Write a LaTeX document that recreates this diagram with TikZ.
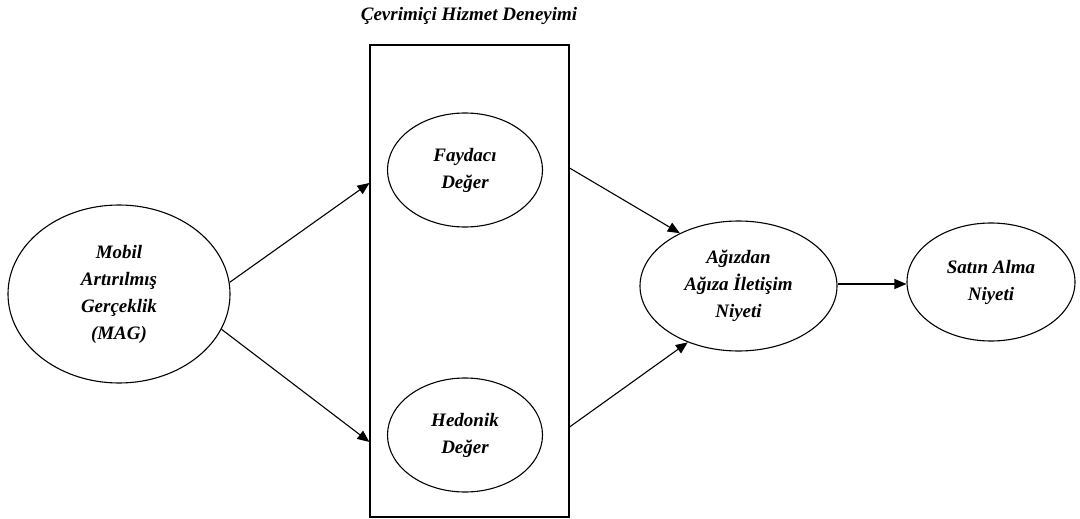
\documentclass[tikz,border=0pt]{standalone}
\usepackage{fontspec}
\setmainfont{Liberation Serif}
\usetikzlibrary{shapes.geometric,arrows.meta}
\begin{document}
\begin{tikzpicture}[x=1pt,y=-1pt,
 lbl/.style={font=\fontsize{19}{27}\selectfont\bfseries\itshape, align=center},
 oval/.style={ellipse, draw, line width=1.1pt, inner sep=0pt, lbl},
 arr/.style={-{Triangle[length=12pt,width=10pt]}, line width=1.1pt}]
\useasboundingbox (0,0) rectangle (1080,519);
\node[lbl] (title) at (469,16) {Çevrimiçi Hizmet Deneyimi};
\node[draw, line width=1.1pt, minimum width=199pt, minimum height=472pt, inner sep=0pt] (box) at (469.5,281) {};
\node[oval, minimum width=155pt, minimum height=114pt] (fay) at (465,170) {Faydacı\\Değer};
\node[oval, minimum width=155pt, minimum height=114pt] (hed) at (465,435) {Hedonik\\Değer};
\node[oval, minimum width=222pt, minimum height=178pt] (mag) at (119,294) {Mobil\\Artırılmış\\Gerçeklik\\(MAG)};
\node[oval, minimum width=197pt, minimum height=130pt] (agz) at (738.5,286) {Ağızdan\\Ağıza İletişim\\Niyeti};
\node[oval, minimum width=168pt, minimum height=118pt] (sat) at (991,282) {Satın Alma\\Niyeti};
\coordinate (b1) at (box.west |- 0,183);
\coordinate (b2) at (box.west |- 0,442);
\coordinate (b3) at (box.east |- 0,168);
\coordinate (b4) at (box.east |- 0,427);
\coordinate (s1) at (sat.west |- 0,284);
\draw[arr] (mag.6) -- (b1);
\draw[arr] (mag.-19) -- (b2);
\draw[arr] (b3) -- (agz.138);
\draw[arr] (b4) -- (agz.228);
\draw[arr] (agz.east |- s1) -- (s1);
\end{tikzpicture}
\end{document}
